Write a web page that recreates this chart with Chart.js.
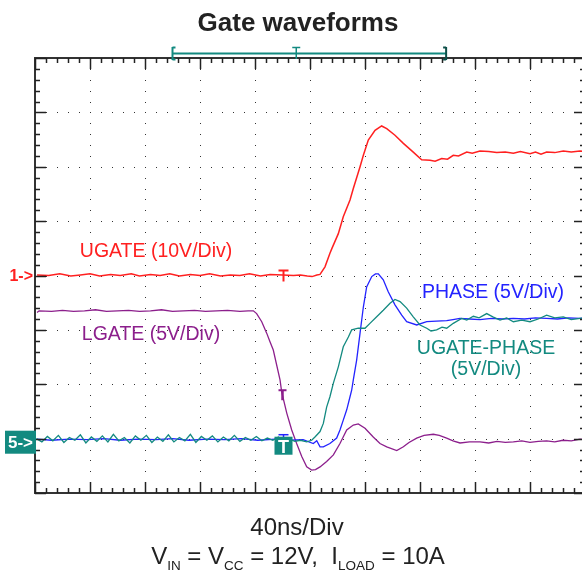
<!DOCTYPE html>
<html>
<head>
<meta charset="utf-8">
<script src="https://cdn.jsdelivr.net/npm/chart.js@4/dist/chart.umd.min.js"></script>
<style>
  html, body { margin: 0; padding: 0; background: #fff; overflow: hidden; }
  #wrap { width: 590px; height: 578px; }
</style>
</head>
<body>
<div id="wrap"><canvas id="scope" width="590" height="578"></canvas></div>
<script>
// time in ns (40 ns/div), value in screen divisions from the bottom (0..8)
const NS_PER_DIV = 40;
const X_DIVS = 10;
const Y_DIVS = 8;
const MINOR = 5;
const TRIG_T = 180;      // trigger markers on the traces
const TOP_T = 190;       // trigger position on the top bar
const BAR_START = 100;
const BAR_END = 299;
const CH1_REF = 4.0;     // "1->"
const CH5_REF = 0.98;    // "5->"

const ugate = [[1.5,4.01],[10,4.00],[18,4.03],[26,3.99],[33,4.01],[40,4.03],[47,3.99],[55,4.02],[62,4.00],[70,4.03],[76,3.99],[84,4.02],[91,4.00],[98,4.03],[105,3.99],[113,4.02],[120,4.00],[127,4.03],[135,3.99],[142,4.01],[149,4.00],[156,4.03],[164,3.99],[171,4.02],[180,4.01],[188,4.00],[193,4.01],[198,3.99],[201.5,3.98],[205,4.01],[207.3,4.02],[210.9,4.16],[214.5,4.41],[215.8,4.49],[220.6,4.77],[224.2,5.08],[229.1,5.39],[231.5,5.60],[236.4,6.00],[238.8,6.21],[242.4,6.49],[247.3,6.67],[252.1,6.75],[255.8,6.70],[261.8,6.58],[267.9,6.43],[275.1,6.27],[281.2,6.13],[287.3,6.12],[291,6.10],[295.8,6.15],[300,6.14],[304.2,6.21],[308,6.20],[314,6.27],[318,6.25],[323.6,6.29],[330,6.28],[335.8,6.26],[342,6.27],[347.9,6.25],[353,6.28],[360,6.24],[364,6.27],[368,6.23],[372.1,6.27],[378,6.26],[384.2,6.29],[390,6.27],[396.4,6.29],[400,6.28]];

const lgate = [[1.5,3.32],[3,3.35],[12,3.34],[20,3.36],[28,3.34],[36,3.35],[44,3.37],[52,3.34],[60,3.35],[68,3.36],[76,3.34],[84,3.35],[92,3.37],[100,3.34],[108,3.35],[116,3.36],[124,3.34],[132,3.35],[140,3.36],[149,3.34],[155,3.35],[158.8,3.35],[161.2,3.30],[164.9,3.15],[168.5,2.94],[170.9,2.78],[173.3,2.63],[178.2,2.08],[179.4,1.86],[183.1,1.47],[186.7,1.16],[190.3,0.91],[194,0.67],[197.6,0.48],[201.2,0.42],[204,0.43],[207.3,0.48],[212.1,0.58],[217,0.70],[221.8,0.91],[226.7,1.16],[231.5,1.25],[235.1,1.27],[240,1.19],[246,1.03],[250.9,0.91],[255.8,0.85],[263.1,0.78],[267.9,0.85],[272,0.93],[277.6,1.01],[283,1.06],[289.7,1.08],[294,1.06],[299.4,1.01],[304,0.96],[309.1,0.92],[316,0.94],[323.6,0.94],[330,0.92],[336,0.95],[342,0.93],[347.9,0.94],[354,0.96],[360,0.93],[366,0.95],[372.1,0.96],[378,0.94],[384,0.97],[390,0.96],[396.4,0.99],[400,0.98]];

const phase = [[1.5,0.99],[12,0.97],[25,0.99],[38,0.98],[50,1.00],[62,0.97],[75,0.99],[88,0.98],[100,1.00],[112,0.97],[125,0.99],[138,0.98],[150,1.00],[162,0.97],[175,0.99],[185,0.97],[195,0.98],[202.4,0.91],[204.9,0.96],[207.3,0.85],[209.7,0.85],[214.5,0.91],[219.4,1.01],[221.8,1.16],[224.2,1.34],[226.7,1.53],[229.1,1.77],[230.3,1.89],[231.5,2.08],[233.9,2.44],[236.4,2.94],[238.8,3.42],[241.2,3.79],[244.9,3.98],[247.6,4.03],[249.7,4.03],[253.3,3.92],[256.9,3.70],[261.8,3.46],[266.7,3.27],[270.3,3.15],[277.6,3.09],[284.9,3.15],[292,3.16],[299.4,3.17],[304,3.19],[309.1,3.21],[316,3.20],[323.6,3.19],[332,3.21],[340,3.20],[347.9,3.21],[356,3.20],[364,3.22],[372.1,3.21],[380,3.20],[388,3.22],[396.4,3.21],[400,3.22]];

const ugatePhase = [[1,1.00],[5,0.94],[9,1.04],[13,0.96],[17,1.06],[21,0.93],[25,1.02],[29,0.97],[33,1.07],[37,0.92],[41,1.03],[45,0.95],[49,1.05],[53,0.94],[57,1.08],[61,0.96],[65,1.02],[69,0.92],[73,1.05],[77,0.97],[81,1.06],[85,0.93],[89,1.03],[93,0.95],[97,1.07],[101,0.94],[105,1.02],[109,0.96],[113,1.08],[117,0.93],[121,1.04],[125,0.97],[129,1.05],[133,0.94],[137,1.03],[141,0.96],[145,1.06],[149,0.95],[153,1.02],[157,0.97],[161,1.04],[165,0.96],[169,1.01],[173,0.97],[177,1.03],[181,0.96],[185,0.99],[189,0.95],[193,0.97],[197.6,0.94],[201.2,0.97],[203.6,1.03],[207.3,1.13],[209.7,1.28],[212.1,1.58],[214.5,1.77],[217,2.02],[220.6,2.32],[224.2,2.69],[227.9,2.87],[230.3,3.00],[235.1,3.03],[240,3.03],[243.6,3.12],[248.5,3.24],[253.3,3.36],[258.2,3.49],[261.8,3.56],[265.5,3.52],[270.3,3.40],[275.1,3.24],[280,3.09],[284.9,3.03],[288,2.98],[292.1,3.00],[296,3.05],[299.4,3.03],[304.2,3.12],[310.3,3.21],[314,3.18],[318.8,3.25],[323,3.22],[328.5,3.30],[333,3.24],[338.2,3.18],[343,3.22],[347.9,3.15],[354,3.18],[360,3.15],[366,3.20],[372.1,3.27],[378,3.22],[384.2,3.24],[390,3.19],[396.4,3.21],[400,3.22]];

const RED = '#ff2020', PURPLE = '#8c1f8c', BLUE = '#2323ff', TEAL = '#138a80';
const FONT = '"Liberation Sans", Arial, sans-serif';

const traceLabels = [
  { text: 'UGATE (10V/Div)', color: RED, x: 156, y: 257 },
  { text: 'LGATE (5V/Div)', color: PURPLE, x: 151, y: 340 },
  { text: 'PHASE (5V/Div)', color: BLUE, x: 493, y: 298 },
  { text: 'UGATE-PHASE', color: TEAL, x: 486, y: 354 },
  { text: '(5V/Div)', color: TEAL, x: 486, y: 375 }
];

function line(ctx, x1, y1, x2, y2) {
  ctx.beginPath(); ctx.moveTo(x1, y1); ctx.lineTo(x2, y2); ctx.stroke();
}

const graticule = {
  id: 'graticule',
  beforeDatasetsDraw(chart) {
    const { ctx, scales: { x, y } } = chart;
    ctx.save();
    ctx.fillStyle = '#333';
    for (let i = 1; i < X_DIVS; i++) {
      const px = Math.round(x.getPixelForValue(i * NS_PER_DIV));
      for (let j = 0; j <= Y_DIVS * MINOR; j++) {
        ctx.fillRect(px, Math.round(y.getPixelForValue(j / MINOR)), 1, 1);
      }
    }
    for (let j = 1; j < Y_DIVS; j++) {
      const py = Math.round(y.getPixelForValue(j));
      for (let i = 0; i <= X_DIVS * MINOR; i++) {
        ctx.fillRect(Math.round(x.getPixelForValue(i * NS_PER_DIV / MINOR)), py, 1, 1);
      }
    }
    ctx.restore();
  },
  afterDatasetsDraw(chart) {
    const { ctx, chartArea: a, scales: { x, y } } = chart;
    ctx.save();
    // border + ticks
    ctx.strokeStyle = '#333';
    ctx.lineWidth = 2;
    ctx.strokeRect(a.left, a.top, a.right - a.left, a.bottom - a.top);
    ctx.lineWidth = 1.5;
    ctx.strokeStyle = '#222';
    for (let i = 0; i <= X_DIVS * MINOR; i++) {
      const px = Math.round(x.getPixelForValue(i * NS_PER_DIV / MINOR)) + 0.5;
      const len = i % MINOR === 0 ? 11 : 5;
      line(ctx, px, a.top, px, a.top + len);
      line(ctx, px, a.bottom, px, a.bottom - len);
    }
    for (let j = 0; j <= Y_DIVS * MINOR; j++) {
      const py = Math.round(y.getPixelForValue(j / MINOR)) + 0.5;
      const len = j % MINOR === 0 ? 11 : 5;
      line(ctx, a.left, py, a.left + len, py);
      line(ctx, a.right, py, a.right - len, py);
    }

    // top trigger bar
    const bx1 = x.getPixelForValue(BAR_START), bx2 = x.getPixelForValue(BAR_END);
    const tx = x.getPixelForValue(TOP_T);
    ctx.strokeStyle = TEAL;
    ctx.lineWidth = 2;
    line(ctx, bx1, 53.5, bx2, 53.5);
    line(ctx, bx1, 47, bx1, 60); line(ctx, bx1, 47.5, bx1 + 3, 47.5); line(ctx, bx1, 59.5, bx1 + 3, 59.5);
    ctx.strokeStyle = '#0d4f49';
    line(ctx, bx2, 47, bx2, 60); line(ctx, bx2 - 3, 47.5, bx2, 47.5); line(ctx, bx2 - 3, 59.5, bx2, 59.5);
    ctx.strokeStyle = TEAL;
    ctx.lineWidth = 1.5;
    line(ctx, tx - 4, 47.5, tx + 4, 47.5); line(ctx, tx, 47, tx, 59);

    // trace trigger markers
    const trx = Math.round(x.getPixelForValue(TRIG_T)) + 0.5;
    const r1 = y.getPixelForValue(CH1_REF);
    ctx.strokeStyle = RED; ctx.lineWidth = 2;
    line(ctx, trx - 5, r1 - 5, trx + 5, r1 - 5); line(ctx, trx, r1 - 5, trx, r1 + 6);
    const lp = y.getPixelForValue(1.89);
    ctx.strokeStyle = PURPLE;
    line(ctx, trx - 5, lp, trx + 3, lp); ctx.lineWidth = 2.5; line(ctx, trx - 1, lp, trx - 1, lp + 10);
    const r5 = y.getPixelForValue(CH5_REF);
    ctx.strokeStyle = BLUE; ctx.lineWidth = 1.5;
    line(ctx, trx - 5, r5 - 5, trx + 5, r5 - 5); line(ctx, trx, r5 - 5, trx, r5 - 2);
    ctx.fillStyle = TEAL;
    ctx.fillRect(trx - 9, r5 - 3, 18, 18);
    ctx.fillStyle = '#fff';
    ctx.font = 'bold 18px ' + FONT;
    ctx.textAlign = 'center';
    ctx.fillText('T', trx, r5 + 13);

    // channel reference markers
    ctx.fillStyle = RED;
    ctx.font = 'bold 16px ' + FONT;
    ctx.textAlign = 'right';
    ctx.fillText('1->', 33, r1 + 5);
    ctx.fillStyle = TEAL;
    ctx.fillRect(5, r5 - 9, 31, 23);
    ctx.fillStyle = '#fff';
    ctx.font = 'bold 17px ' + FONT;
    ctx.textAlign = 'center';
    ctx.fillText('5->', 20.5, r5 + 8.5);

    // trace labels
    ctx.font = '19.5px ' + FONT;
    traceLabels.forEach(l => { ctx.fillStyle = l.color; ctx.fillText(l.text, l.x, l.y); });

    // title and captions
    ctx.fillStyle = '#222';
    ctx.font = 'bold 26px ' + FONT;
    ctx.fillText('Gate waveforms', 298, 30.5);
    ctx.font = '24px ' + FONT;
    ctx.fillText('40ns/Div', 297, 535);

    const parts = [['V', 0], ['IN', 1], [' = V', 0], ['CC', 1], [' = 12V,  I', 0], ['LOAD', 1], [' = 10A', 0]];
    const fontFor = sub => (sub ? '13.5px ' : '24px ') + FONT;
    let w = 0;
    parts.forEach(([t, s]) => { ctx.font = fontFor(s); w += ctx.measureText(t).width; });
    let cx = 298 - w / 2;
    ctx.textAlign = 'left';
    parts.forEach(([t, s]) => {
      ctx.font = fontFor(s);
      ctx.fillText(t, cx, s ? 569.5 : 563.5);
      cx += ctx.measureText(t).width;
    });
    ctx.restore();
  }
};

const trace = (label, arr, color, width) => ({
  label,
  data: arr.map(([t, v]) => ({ x: t, y: v })),
  borderColor: color,
  borderWidth: width,
  pointRadius: 0,
  showLine: true,
  tension: 0,
  fill: false
});

new Chart(document.getElementById('scope'), {
  type: 'scatter',
  data: {
    datasets: [
      trace('UGATE-PHASE', ugatePhase, TEAL, 1.3),
      trace('PHASE', phase, BLUE, 1.3),
      trace('LGATE', lgate, PURPLE, 1.3),
      trace('UGATE', ugate, RED, 1.5)
    ]
  },
  options: {
    responsive: false,
    animation: false,
    devicePixelRatio: 1,
    layout: { padding: { left: 35, right: 5, top: 58, bottom: 85 } },
    plugins: { legend: { display: false }, tooltip: { enabled: false } },
    scales: {
      x: { type: 'linear', min: 0, max: X_DIVS * NS_PER_DIV, display: false },
      y: { type: 'linear', min: 0, max: Y_DIVS, display: false }
    }
  },
  plugins: [graticule]
});
</script>
</body>
</html>
